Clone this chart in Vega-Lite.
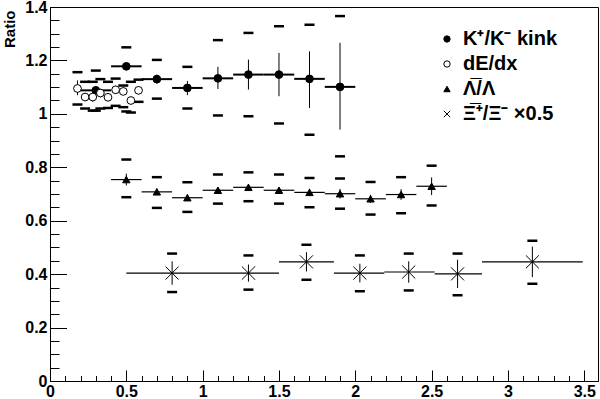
{
  "$schema": "https://vega.github.io/schema/vega-lite/v6.json",
  "width": 548,
  "height": 374,
  "autosize": {"type": "none"},
  "padding": {"left": 50, "top": 7, "right": 2, "bottom": 18},
  "background": "white",
  "config": {
    "view": {"stroke": "black", "strokeWidth": 1},
    "axis": {"domainColor": "black", "tickColor": "black", "labelColor": "black", "labelFont": "Liberation Sans", "labelFontWeight": "bold", "labelFontSize": 16, "grid": false, "tickWidth": 1, "domainWidth": 1}
  },
  "resolve": {"axis": {"x": "independent", "y": "independent"}},
  "data": {
    "values": [
      {"s": "kink", "x": 0.3, "v": 1.088, "xlo": 0.2, "xhi": 0.4, "elo": 1.072, "ehi": 1.104, "slo": 1.012, "shi": 1.162},
      {"s": "kink", "x": 0.5, "v": 1.178, "xlo": 0.4, "xhi": 0.6, "elo": 1.166, "ehi": 1.19, "slo": 1.009, "shi": 1.249},
      {"s": "kink", "x": 0.7, "v": 1.13, "xlo": 0.6, "xhi": 0.8, "elo": 1.113, "ehi": 1.147, "slo": 1.057, "shi": 1.202},
      {"s": "kink", "x": 0.9, "v": 1.097, "xlo": 0.8, "xhi": 1.0, "elo": 1.07, "ehi": 1.123, "slo": 1.02, "shi": 1.176},
      {"s": "kink", "x": 1.1, "v": 1.133, "xlo": 1.0, "xhi": 1.2, "elo": 1.093, "ehi": 1.176, "slo": 0.994, "shi": 1.276},
      {"s": "kink", "x": 1.3, "v": 1.147, "xlo": 1.2, "xhi": 1.4, "elo": 1.091, "ehi": 1.203, "slo": 0.991, "shi": 1.303},
      {"s": "kink", "x": 1.5, "v": 1.147, "xlo": 1.4, "xhi": 1.6, "elo": 1.066, "ehi": 1.228, "slo": 0.964, "shi": 1.328},
      {"s": "kink", "x": 1.7, "v": 1.131, "xlo": 1.6, "xhi": 1.8, "elo": 1.022, "ehi": 1.234, "slo": 0.922, "shi": 1.334},
      {"s": "kink", "x": 1.9, "v": 1.101, "xlo": 1.8, "xhi": 2.0, "elo": 0.941, "ehi": 1.266, "slo": 0.841, "shi": 1.366},
      {"s": "dedx", "x": 0.18, "v": 1.095, "xlo": 0.155, "xhi": 0.205, "elo": 1.07, "ehi": 1.125, "slo": 1.035, "shi": 1.156},
      {"s": "dedx", "x": 0.23, "v": 1.063, "xlo": 0.205, "xhi": 0.255, "elo": 1.048, "ehi": 1.078, "slo": 1.02, "shi": 1.12},
      {"s": "dedx", "x": 0.28, "v": 1.063, "xlo": 0.255, "xhi": 0.305, "elo": 1.045, "ehi": 1.08, "slo": 1.012, "shi": 1.12},
      {"s": "dedx", "x": 0.33, "v": 1.078, "xlo": 0.305, "xhi": 0.355, "elo": 1.062, "ehi": 1.094, "slo": 1.02, "shi": 1.13},
      {"s": "dedx", "x": 0.38, "v": 1.062, "xlo": 0.355, "xhi": 0.405, "elo": 1.047, "ehi": 1.077, "slo": 1.022, "shi": 1.12},
      {"s": "dedx", "x": 0.43, "v": 1.09, "xlo": 0.405, "xhi": 0.455, "elo": 1.075, "ehi": 1.105, "slo": 1.03, "shi": 1.132},
      {"s": "dedx", "x": 0.48, "v": 1.084, "xlo": 0.455, "xhi": 0.505, "elo": 1.07, "ehi": 1.098, "slo": 1.025, "shi": 1.106},
      {"s": "dedx", "x": 0.53, "v": 1.05, "xlo": 0.505, "xhi": 0.555, "elo": 1.036, "ehi": 1.064, "slo": 1.005, "shi": 1.12},
      {"s": "dedx", "x": 0.58, "v": 1.088, "xlo": 0.555, "xhi": 0.605, "elo": 1.073, "ehi": 1.103, "slo": 1.045, "shi": 1.128},
      {"s": "lam", "x": 0.5, "v": 0.754, "xlo": 0.4, "xhi": 0.6, "elo": 0.732, "ehi": 0.776, "slo": 0.688, "shi": 0.829},
      {"s": "lam", "x": 0.7, "v": 0.708, "xlo": 0.6, "xhi": 0.8, "elo": 0.696, "ehi": 0.72, "slo": 0.648, "shi": 0.763},
      {"s": "lam", "x": 0.9, "v": 0.686, "xlo": 0.8, "xhi": 1.0, "elo": 0.674, "ehi": 0.698, "slo": 0.633, "shi": 0.744},
      {"s": "lam", "x": 1.1, "v": 0.714, "xlo": 1.0, "xhi": 1.2, "elo": 0.702, "ehi": 0.726, "slo": 0.664, "shi": 0.773},
      {"s": "lam", "x": 1.3, "v": 0.725, "xlo": 1.2, "xhi": 1.4, "elo": 0.713, "ehi": 0.737, "slo": 0.673, "shi": 0.781},
      {"s": "lam", "x": 1.5, "v": 0.714, "xlo": 1.4, "xhi": 1.6, "elo": 0.702, "ehi": 0.726, "slo": 0.664, "shi": 0.773},
      {"s": "lam", "x": 1.7, "v": 0.706, "xlo": 1.6, "xhi": 1.8, "elo": 0.692, "ehi": 0.72, "slo": 0.65, "shi": 0.76},
      {"s": "lam", "x": 1.9, "v": 0.701, "xlo": 1.8, "xhi": 2.0, "elo": 0.683, "ehi": 0.719, "slo": 0.645, "shi": 0.758},
      {"s": "lam", "x": 2.1, "v": 0.682, "xlo": 2.0, "xhi": 2.2, "elo": 0.667, "ehi": 0.697, "slo": 0.623, "shi": 0.745},
      {"s": "lam", "x": 2.3, "v": 0.698, "xlo": 2.2, "xhi": 2.4, "elo": 0.678, "ehi": 0.718, "slo": 0.628, "shi": 0.763},
      {"s": "lam", "x": 2.5, "v": 0.729, "xlo": 2.4, "xhi": 2.6, "elo": 0.696, "ehi": 0.762, "slo": 0.657, "shi": 0.806},
      {"s": "xi", "x": 0.8, "v": 0.404, "xlo": 0.5, "xhi": 1.1, "elo": 0.36, "ehi": 0.448, "slo": 0.333, "shi": 0.477},
      {"s": "xi", "x": 1.3, "v": 0.404, "xlo": 1.1, "xhi": 1.5, "elo": 0.372, "ehi": 0.436, "slo": 0.342, "shi": 0.47},
      {"s": "xi", "x": 1.68, "v": 0.446, "xlo": 1.5, "xhi": 1.86, "elo": 0.41, "ehi": 0.482, "slo": 0.379, "shi": 0.51},
      {"s": "xi", "x": 2.03, "v": 0.404, "xlo": 1.86, "xhi": 2.19, "elo": 0.369, "ehi": 0.439, "slo": 0.336, "shi": 0.47},
      {"s": "xi", "x": 2.35, "v": 0.408, "xlo": 2.19, "xhi": 2.52, "elo": 0.368, "ehi": 0.448, "slo": 0.339, "shi": 0.477},
      {"s": "xi", "x": 2.67, "v": 0.401, "xlo": 2.52, "xhi": 2.83, "elo": 0.348, "ehi": 0.454, "slo": 0.321, "shi": 0.477},
      {"s": "xi", "x": 3.16, "v": 0.446, "xlo": 2.83, "xhi": 3.49, "elo": 0.389, "ehi": 0.503, "slo": 0.364, "shi": 0.525}
    ]
  },
  "layer": [
    {
      "mark": {"type": "rule", "color": "black"},
      "encoding": {
        "x": {
          "field": "xlo", "type": "quantitative",
          "scale": {"domain": [0, 3.59], "nice": false, "zero": false},
          "axis": {
            "orient": "bottom", "title": null,
            "values": [0, 0.5, 1, 1.5, 2, 2.5, 3, 3.5],
            "tickSize": -11, "labelPadding": 13.5, "labelFlush": false, "labelOverlap": false, "labelBound": false, "labelBaseline": "top",
            "format": "~g"
          }
        },
        "x2": {"field": "xhi"},
        "y": {
          "field": "v", "type": "quantitative",
          "scale": {"domain": [0, 1.4], "nice": false, "zero": false},
          "axis": {
            "orient": "left", "title": "Ratio",
            "values": [0, 0.2, 0.4, 0.6, 0.8, 1, 1.2, 1.4],
            "tickSize": -16.5, "labelPadding": 19.5, "labelOverlap": false, "labelBound": false, "labelFlush": false,
            "format": "~g",
            "titleFont": "Liberation Sans", "titleFontWeight": "bold", "titleFontSize": 15, "titleColor": "black",
            "titleAngle": 270, "titleAlign": "right", "titleBaseline": "middle", "titleX": -41, "titleY": 3
          }
        },
        "strokeWidth": {"condition": {"test": "datum.s=='kink'", "value": 2}, "value": 1.2}
      }
    },
    {
      "mark": {"type": "rule", "color": "black", "strokeWidth": 1},
      "encoding": {
        "x": {
          "field": "x", "type": "quantitative",
          "axis": {
            "orient": "bottom", "title": null, "labels": false, "domain": false,
            "values": [0.1,0.2,0.3,0.4,0.6,0.7,0.8,0.9,1.1,1.2,1.3,1.4,1.6,1.7,1.8,1.9,2.1,2.2,2.3,2.4,2.6,2.7,2.8,2.9,3.1,3.2,3.3,3.4],
            "tickSize": -5.5
          }
        },
        "y": {
          "field": "elo", "type": "quantitative",
          "axis": {
            "orient": "left", "title": null, "labels": false, "domain": false,
            "values": [0.05,0.1,0.15,0.25,0.3,0.35,0.45,0.5,0.55,0.65,0.7,0.75,0.85,0.9,0.95,1.05,1.1,1.15,1.25,1.3,1.35],
            "tickSize": -9
          }
        },
        "y2": {"field": "ehi"}
      }
    },
    {
      "mark": {"type": "tick", "orient": "horizontal", "size": 10, "thickness": 2.5, "color": "black", "opacity": 1},
      "encoding": {
        "x": {"field": "x", "type": "quantitative", "axis": null},
        "y": {"field": "slo", "type": "quantitative", "axis": null}
      }
    },
    {
      "mark": {"type": "tick", "orient": "horizontal", "size": 10, "thickness": 2.5, "color": "black", "opacity": 1},
      "encoding": {
        "x": {"field": "x", "type": "quantitative", "axis": null},
        "y": {"field": "shi", "type": "quantitative", "axis": null}
      }
    },
    {
      "mark": {"type": "point", "opacity": 1, "strokeWidth": 1, "stroke": "black"},
      "encoding": {
        "x": {"field": "x", "type": "quantitative", "axis": null},
        "y": {"field": "v", "type": "quantitative", "axis": null},
        "shape": {
          "field": "s", "type": "nominal",
          "scale": {"domain": ["kink", "dedx", "lam", "xi"], "range": ["circle", "circle", "triangle-up", "M-1,-1L1,1M-1,1L1,-1"]},
          "legend": {
            "orient": "none", "legendX": 387, "legendY": 22, "title": null, "padding": 0,
            "labelFontSize": 20, "labelFont": "Liberation Sans", "labelFontWeight": "bold", "labelColor": "black",
            "symbolSize": 40, "rowPadding": 5, "labelOffset": 6, "labelLimit": 300, "symbolStrokeWidth": 1, "symbolOpacity": 1,
            "labelExpr": "datum.value=='kink' ? 'K⁺/K⁻ kink' : datum.value=='dedx' ? 'dE/dx' : datum.value=='lam' ? 'Λ̅/Λ' : 'Ξ̅⁺/Ξ⁻ ×0.5'",
            "encode": {
              "symbols": {
                "stroke": {"value": "black"},
                "size": {"condition": {"test": "datum.value=='xi'", "value": 55}, "value": 36}
              },
              "labels": {
                "font": {"condition": {"test": "datum.value=='lam' || datum.value=='xi'", "value": "Liberation Serif"}, "value": "Liberation Sans"},
                "fontWeight": {"condition": {"test": "datum.value=='lam' || datum.value=='xi'", "value": "normal"}, "value": "bold"},
                "fontSize": {"condition": {"test": "datum.value=='lam' || datum.value=='xi'", "value": 19}, "value": 20},
                "dx": {"condition": {"test": "datum.value=='dedx'", "value": 51}, "value": 0}
              }
            }
          }
        },
        "fill": {
          "field": "s", "type": "nominal",
          "scale": {"domain": ["kink", "dedx", "lam", "xi"], "range": ["black", "white", "black", "transparent"]}
        },
        "size": {"condition": [{"test": "datum.s=='xi'", "value": 170}, {"test": "datum.s=='lam'", "value": 55}], "value": 60}
      }
    }
  ]
}
